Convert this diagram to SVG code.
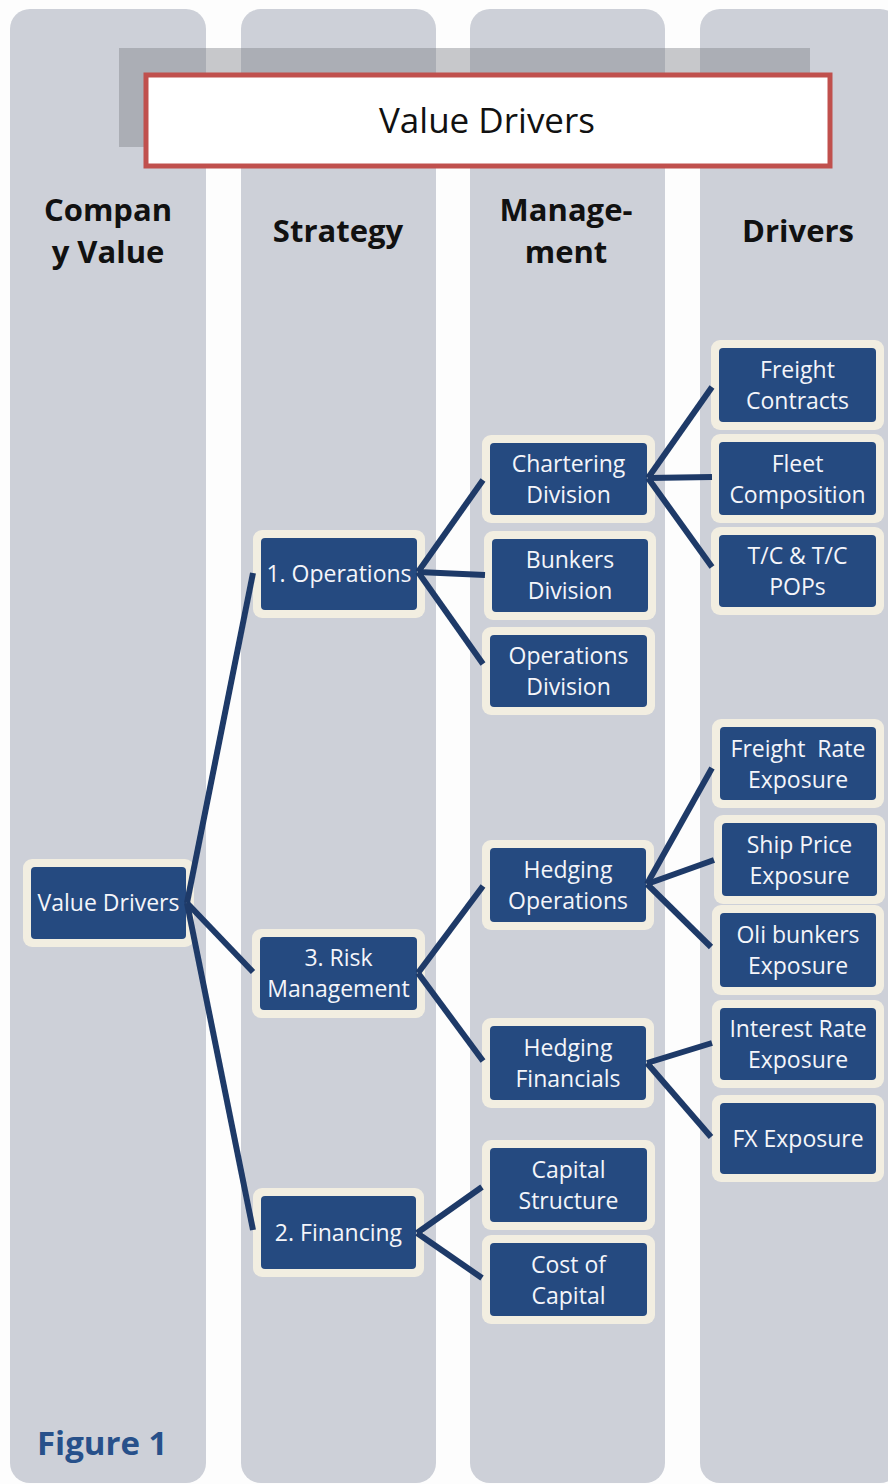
<svg xmlns="http://www.w3.org/2000/svg" width="888" height="1484" viewBox="0 0 888 1484">
<style>
.col{fill:#cdd0d8}
.halo{fill:#f2eee1}
.box{fill:#254a80}
.nt{font-family:"Open Sans","Noto Sans",sans-serif;font-size:23px;fill:#f4f5fa;text-anchor:middle}
.hd{font-family:"Open Sans","Noto Sans",sans-serif;font-size:31px;font-weight:bold;fill:#111;text-anchor:middle}
.cn line{stroke:#1e3a68;stroke-width:6;stroke-linecap:butt}
</style>
<rect x="0" y="0" width="888" height="1484" fill="#fdfdfd"/>
<g id="columns">
<rect class="col" x="10" y="9" width="196" height="1474" rx="20"/>
<rect class="col" x="241" y="9" width="195" height="1474" rx="20"/>
<rect class="col" x="470" y="9" width="195" height="1474" rx="20"/>
<rect class="col" x="700" y="9" width="200" height="1474" rx="20"/>
</g>
<g id="title">
<rect x="119" y="48" width="691" height="99" fill="#7c7f86" fill-opacity="0.42"/>
<rect x="146" y="75" width="684" height="91" fill="#ffffff" stroke="#c0504d" stroke-width="5"/>
<text x="487" y="133" font-family="'Open Sans','Noto Sans',sans-serif" font-size="35" fill="#111" text-anchor="middle">Value Drivers</text>
</g>
<g id="headers">
<text class="hd" x="108" y="221">Compan</text>
<text class="hd" x="108" y="263">y Value</text>
<text class="hd" x="338" y="242">Strategy</text>
<text class="hd" x="566" y="221">Manage-</text>
<text class="hd" x="566" y="263">ment</text>
<text class="hd" x="798" y="242">Drivers</text>
</g>
<g id="n-root"><rect class="halo" x="23" y="859" width="171" height="88" rx="9"/><rect class="box" x="31" y="867" width="155" height="72" rx="4"/><text class="nt" x="108.5" y="911">Value Drivers</text></g>
<g id="n-operations"><rect class="halo" x="253" y="530" width="172" height="88" rx="9"/><rect class="box" x="261" y="538" width="156" height="72" rx="4"/><text class="nt" x="339" y="582">1. Operations</text></g>
<g id="n-risk"><rect class="halo" x="252" y="929" width="173" height="89" rx="9"/><rect class="box" x="260" y="937" width="157" height="73" rx="4"/><text class="nt" x="338.5" y="966">3. Risk</text><text class="nt" x="338.5" y="997">Management</text></g>
<g id="n-financing"><rect class="halo" x="253" y="1188" width="171" height="89" rx="9"/><rect class="box" x="261" y="1196" width="155" height="73" rx="4"/><text class="nt" x="338.5" y="1241">2. Financing</text></g>
<g id="n-chartering"><rect class="halo" x="482" y="435" width="173" height="88" rx="9"/><rect class="box" x="490" y="443" width="157" height="72" rx="4"/><text class="nt" x="568.5" y="472">Chartering</text><text class="nt" x="568.5" y="503">Division</text></g>
<g id="n-bunkers"><rect class="halo" x="484" y="531" width="172" height="89" rx="9"/><rect class="box" x="492" y="539" width="156" height="73" rx="4"/><text class="nt" x="570" y="568">Bunkers</text><text class="nt" x="570" y="599">Division</text></g>
<g id="n-opsdiv"><rect class="halo" x="482" y="627" width="173" height="88" rx="9"/><rect class="box" x="490" y="635" width="157" height="72" rx="4"/><text class="nt" x="568.5" y="664">Operations</text><text class="nt" x="568.5" y="695">Division</text></g>
<g id="n-hedgops"><rect class="halo" x="482" y="840" width="172" height="90" rx="9"/><rect class="box" x="490" y="848" width="156" height="74" rx="4"/><text class="nt" x="568" y="878">Hedging</text><text class="nt" x="568" y="909">Operations</text></g>
<g id="n-hedgfin"><rect class="halo" x="482" y="1018" width="172" height="90" rx="9"/><rect class="box" x="490" y="1026" width="156" height="74" rx="4"/><text class="nt" x="568" y="1056">Hedging</text><text class="nt" x="568" y="1087">Financials</text></g>
<g id="n-capstruct"><rect class="halo" x="482" y="1140" width="173" height="90" rx="9"/><rect class="box" x="490" y="1148" width="157" height="74" rx="4"/><text class="nt" x="568.5" y="1178">Capital</text><text class="nt" x="568.5" y="1209">Structure</text></g>
<g id="n-costcap"><rect class="halo" x="482" y="1235" width="173" height="89" rx="9"/><rect class="box" x="490" y="1243" width="157" height="73" rx="4"/><text class="nt" x="568.5" y="1273">Cost of</text><text class="nt" x="568.5" y="1304">Capital</text></g>
<g id="n-freightcontracts"><rect class="halo" x="711" y="340" width="173" height="90" rx="9"/><rect class="box" x="719" y="348" width="157" height="74" rx="4"/><text class="nt" x="797.5" y="378">Freight</text><text class="nt" x="797.5" y="409">Contracts</text></g>
<g id="n-fleet"><rect class="halo" x="711" y="434" width="173" height="89" rx="9"/><rect class="box" x="719" y="442" width="157" height="73" rx="4"/><text class="nt" x="797.5" y="472">Fleet</text><text class="nt" x="797.5" y="503">Composition</text></g>
<g id="n-tc"><rect class="halo" x="711" y="527" width="173" height="88" rx="9"/><rect class="box" x="719" y="535" width="157" height="72" rx="4"/><text class="nt" x="797.5" y="564">T/C &amp; T/C</text><text class="nt" x="797.5" y="595">POPs</text></g>
<g id="n-freightrate"><rect class="halo" x="712" y="719" width="172" height="89" rx="9"/><rect class="box" x="720" y="727" width="156" height="73" rx="4"/><text class="nt" x="798" y="757" xml:space="preserve">Freight  Rate</text><text class="nt" x="798" y="788">Exposure</text></g>
<g id="n-shipprice"><rect class="halo" x="714" y="815" width="171" height="89" rx="9"/><rect class="box" x="722" y="823" width="155" height="73" rx="4"/><text class="nt" x="799.5" y="853">Ship Price</text><text class="nt" x="799.5" y="884">Exposure</text></g>
<g id="n-oli"><rect class="halo" x="712" y="905" width="172" height="90" rx="9"/><rect class="box" x="720" y="913" width="156" height="74" rx="4"/><text class="nt" x="798" y="943">Oli bunkers</text><text class="nt" x="798" y="974">Exposure</text></g>
<g id="n-interest"><rect class="halo" x="712" y="1000" width="172" height="88" rx="9"/><rect class="box" x="720" y="1008" width="156" height="72" rx="4"/><text class="nt" x="798" y="1037">Interest Rate</text><text class="nt" x="798" y="1068">Exposure</text></g>
<g id="n-fx"><rect class="halo" x="712" y="1095" width="172" height="87" rx="9"/><rect class="box" x="720" y="1103" width="156" height="71" rx="4"/><text class="nt" x="798" y="1147">FX Exposure</text></g>
<g id="connectors" class="cn">
<line x1="187" y1="903" x2="253" y2="573"/>
<line x1="187" y1="903" x2="253" y2="972"/>
<line x1="187" y1="903" x2="253" y2="1230"/>
<line x1="418" y1="572" x2="483" y2="480"/>
<line x1="418" y1="572" x2="485" y2="575"/>
<line x1="418" y1="572" x2="483" y2="664"/>
<line x1="648" y1="478" x2="712" y2="387"/>
<line x1="648" y1="478" x2="712" y2="477"/>
<line x1="648" y1="478" x2="712" y2="567"/>
<line x1="418" y1="973" x2="483" y2="886"/>
<line x1="418" y1="973" x2="483" y2="1061"/>
<line x1="647" y1="884" x2="712" y2="768"/>
<line x1="647" y1="884" x2="714" y2="860"/>
<line x1="647" y1="884" x2="711" y2="947"/>
<line x1="647" y1="1063" x2="712" y2="1043"/>
<line x1="647" y1="1063" x2="711" y2="1137"/>
<line x1="417" y1="1233" x2="482" y2="1187"/>
<line x1="417" y1="1233" x2="482" y2="1278"/>
</g>
<text id="figure-label" x="37" y="1455" font-family="'Open Sans','Noto Sans',sans-serif" font-size="33" font-weight="bold" fill="#27508a">Figure 1</text>
</svg>
